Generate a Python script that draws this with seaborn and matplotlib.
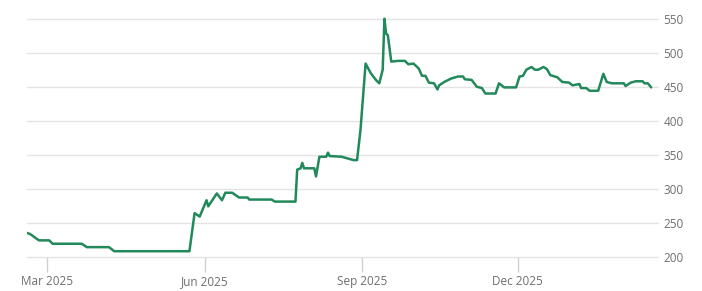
import matplotlib
matplotlib.use("Agg")
import matplotlib.pyplot as plt
import matplotlib.dates as mdates
import seaborn as sns
import pandas as pd

dates = [
    "2025-02-17", "2025-02-19", "2025-02-24", "2025-03-02", "2025-03-04", "2025-03-21",
    "2025-03-24", "2025-04-06", "2025-04-09", "2025-05-23", "2025-05-26", "2025-05-29",
    "2025-06-02", "2025-06-03", "2025-06-08", "2025-06-11", "2025-06-13", "2025-06-17",
    "2025-06-21", "2025-06-26", "2025-06-27", "2025-07-10", "2025-07-12", "2025-07-24",
    "2025-07-25", "2025-07-27", "2025-07-28", "2025-07-29", "2025-08-04", "2025-08-05",
    "2025-08-07", "2025-08-11", "2025-08-12", "2025-08-13", "2025-08-20", "2025-08-27",
    "2025-08-29", "2025-08-31", "2025-09-03", "2025-09-06", "2025-09-09", "2025-09-11",
    "2025-09-13", "2025-09-14", "2025-09-15", "2025-09-16", "2025-09-18", "2025-09-22",
    "2025-09-26", "2025-09-28", "2025-10-01", "2025-10-04", "2025-10-06", "2025-10-08",
    "2025-10-10", "2025-10-13", "2025-10-15", "2025-10-16", "2025-10-19", "2025-10-23",
    "2025-10-27", "2025-10-30", "2025-10-31", "2025-11-04", "2025-11-07", "2025-11-10",
    "2025-11-12", "2025-11-18", "2025-11-20", "2025-11-23", "2025-11-30", "2025-12-02",
    "2025-12-04", "2025-12-06", "2025-12-09", "2025-12-11", "2025-12-13", "2025-12-16",
    "2025-12-18", "2025-12-20", "2025-12-24", "2025-12-27", "2025-12-31", "2026-01-02",
    "2026-01-06", "2026-01-07", "2026-01-10", "2026-01-12", "2026-01-17", "2026-01-20",
    "2026-01-22", "2026-01-25", "2026-02-01", "2026-02-02", "2026-02-05", "2026-02-08",
    "2026-02-12", "2026-02-13", "2026-02-15", "2026-02-17",
]
prices = [
    235, 233, 224, 224, 219, 219,
    214, 214, 208, 208, 264, 259,
    283, 274, 293, 283, 294, 294,
    287, 287, 284, 284, 281, 281,
    328, 330, 338, 330, 330, 318,
    347, 347, 353, 348, 347, 342,
    342, 386, 484, 470, 460, 455,
    475, 550, 528, 526, 487, 488,
    488, 483, 484, 477, 466, 466,
    456, 455, 446, 452, 457, 462,
    465, 465, 461, 460, 450, 448,
    440, 440, 455, 449, 449, 465,
    466, 475, 479, 475, 475, 479,
    476, 467, 464, 457, 456, 452,
    454, 448, 448, 444, 444, 469,
    457, 455, 455, 451, 456, 458,
    458, 455, 455, 449,
]
y_ticks = [200, 250, 300, 350, 400, 450, 500, 550]
x_ticks = ["2025-03-01", "2025-06-01", "2025-09-01", "2025-12-01"]

df = pd.DataFrame({"date": pd.to_datetime(dates), "price": prices})

sns.set_style("white")
plt.rcParams["font.family"] = ["Open Sans", "DejaVu Sans"]

fig = plt.figure(figsize=(7.02, 2.91), dpi=100)
ax = fig.add_axes([0.038, 0.118, 0.899, 0.841])

sns.lineplot(data=df, x="date", y="price", ax=ax, color="#21895a",
             linewidth=1.8, zorder=3)

ax.set_ylim(200, 560)
ax.set_xlim(pd.Timestamp("2025-02-16 20:00"), pd.Timestamp("2026-02-20 20:00"))
ax.set_yticks(y_ticks)
ax.set_xticks(pd.to_datetime(x_ticks))
ax.xaxis.set_major_formatter(mdates.DateFormatter("%b %Y"))

ax.yaxis.tick_right()
ax.grid(axis="y", color="#e4e4e4", linewidth=1.0)
ax.grid(axis="x", visible=False)
for gl in ax.get_ygridlines():
    gl.set_clip_on(False)
for s in ax.spines.values():
    s.set_visible(False)

ax.tick_params(axis="y", length=0, pad=4, labelsize=8.5, labelcolor="#6e6e6e")
ax.tick_params(axis="x", bottom=True, length=11, width=1, color="#d0d0d0", pad=2,
               labelsize=8.5, labelcolor="#6e6e6e")
ax.set_xlabel("")
ax.set_ylabel("")

fig.savefig("out.png", dpi=100, facecolor="white")
